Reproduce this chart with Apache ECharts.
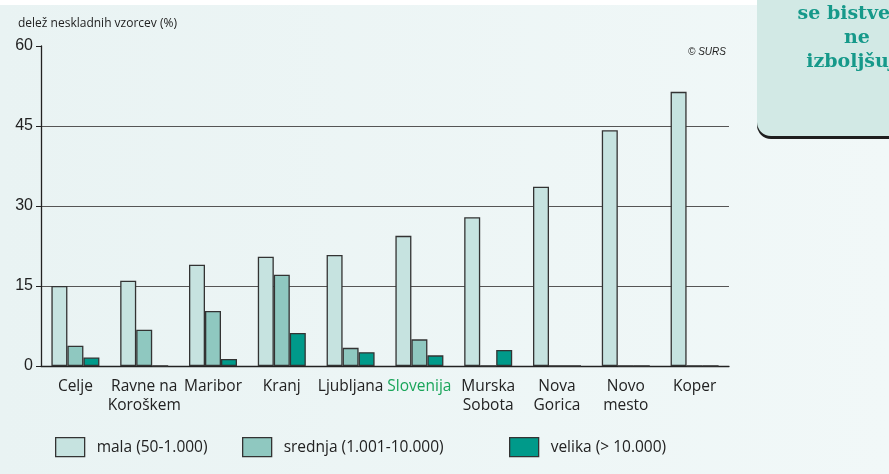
<!DOCTYPE html>
<html>
<head>
<meta charset="utf-8">
<script src="https://cdn.jsdelivr.net/npm/echarts@6/dist/echarts.min.js"></script>
<style>
  html, body { margin: 0; padding: 0; }
  #chart { width: 889px; height: 474px; }
</style>
</head>
<body>
<div id="chart"></div>
<script>
// kraji (kategorije)
const categories = ['Celje', 'Ravne na\nKoroškem', 'Maribor', 'Kranj', 'Ljubljana', 'Slovenija',
  'Murska\nSobota', 'Nova\nGorica', 'Novo\nmesto', 'Koper'];
// delež neskladnih vzorcev (%)
const mala = [15.0, 16.0, 19.0, 20.5, 20.8, 24.4, 27.9, 33.6, 44.2, 51.4];
const srednja = [3.8, 6.8, 10.3, 17.1, 3.4, 5.0, 0, 0, 0, 0];
const velika = [1.6, 0, 1.3, 6.2, 2.6, 2.0, 3.0, 0, 0, 0];
const seriesNames = ['mala (50-1.000)', 'srednja (1.001-10.000)', 'velika (> 10.000)'];
const yTicks = [0, 15, 30, 45, 60];

const font = "'Open Sans', 'Noto Sans', sans-serif";
const border = '#333';

let chart = echarts.init(document.getElementById('chart'));

function bar(name, data, color) {
  return {
    name: name,
    type: 'bar',
    data: data,
    barWidth: 16,
    barGap: '0%',
    itemStyle: { color: color, borderColor: border, borderWidth: 1.3 }
  };
}

function legendFor(name, left) {
  return {
    data: [name],
    left: left,
    top: 432,
    itemWidth: 29,
    itemHeight: 19,
    itemGap: 10,
    icon: 'rect',
    textStyle: { fontFamily: font, fontSize: 15.5, color: '#222', padding: [0, 0, 0, 7] },
    itemStyle: { borderColor: border, borderWidth: 1.3 }
  };
}

let option = {
  backgroundColor: {
    type: 'linear', x: 0, y: 0, x2: 1, y2: 0,
    colorStops: [{ offset: 0, color: '#e9f3f3' }, { offset: 1, color: '#f1f8f8' }]
  },
  animation: false,
  grid: { left: 41, right: 160, top: 46, bottom: 108 },
  legend: [
    legendFor(seriesNames[0], 50),
    legendFor(seriesNames[1], 237),
    legendFor(seriesNames[2], 504)
  ],
  xAxis: {
    type: 'category',
    data: categories,
    axisTick: { show: false },
    axisLine: { lineStyle: { color: '#222', width: 1.3 } },
    axisLabel: {
      interval: 0,
      margin: 11,
      fontFamily: font,
      fontSize: 15.5,
      color: '#222',
      lineHeight: 19,
      formatter: function (v) { return v === 'Slovenija' ? '{g|' + v + '}' : v; },
      rich: { g: { color: '#1aa55a', fontFamily: font, fontSize: 15.5 } }
    }
  },
  yAxis: {
    type: 'value',
    min: yTicks[0],
    max: yTicks[yTicks.length - 1],
    interval: 15,
    name: 'delež neskladnih vzorcev (%)',
    nameLocation: 'end',
    nameGap: 16,
    nameTextStyle: { fontFamily: font, fontSize: 12, color: '#222', align: 'left', padding: [0, 0, 0, -23] },
    axisLine: { show: true, lineStyle: { color: '#222', width: 1.3 } },
    axisTick: { show: true, length: 5, lineStyle: { color: '#222' } },
    axisLabel: { fontFamily: 'Liberation Sans, Arial, sans-serif', fontSize: 16, color: '#222', margin: 8 },
    splitLine: {
      show: true,
      lineStyle: { color: ['transparent', '#555', '#555', '#555', 'transparent'], width: 1.2 }
    }
  },
  series: [
    bar(seriesNames[0], mala, '#c6e3e0'),
    bar(seriesNames[1], srednja, '#8fc8c0'),
    bar(seriesNames[2], velika, '#009a8a')
  ],
  graphic: [
    { type: 'rect', left: 0, top: 0, shape: { width: 889, height: 5 }, style: { fill: '#ffffff' }, z: -1 },
    {
      type: 'text', left: 688, top: 47,
      style: { text: '© SURS', font: "italic 10px 'Liberation Sans', Arial, sans-serif", fill: '#222' }
    },
    {
      type: 'rect', shape: { x: 757, y: -20, width: 160, height: 159, r: [0, 0, 0, 14] },
      style: { fill: '#1e1e1e' }
    },
    {
      type: 'rect', shape: { x: 757, y: -20, width: 160, height: 156, r: [0, 0, 0, 14] },
      style: { fill: '#d2e9e5' }
    },
    {
      type: 'text', x: 857, y: 2,
      style: {
        text: 'se bistveno\nne\nizboljšuje',
        font: "bold 19px 'DejaVu Serif', serif",
        fill: '#16998a',
        align: 'center',
        lineHeight: 24
      }
    }
  ]
};

chart.setOption(option);
</script>
</body>
</html>
